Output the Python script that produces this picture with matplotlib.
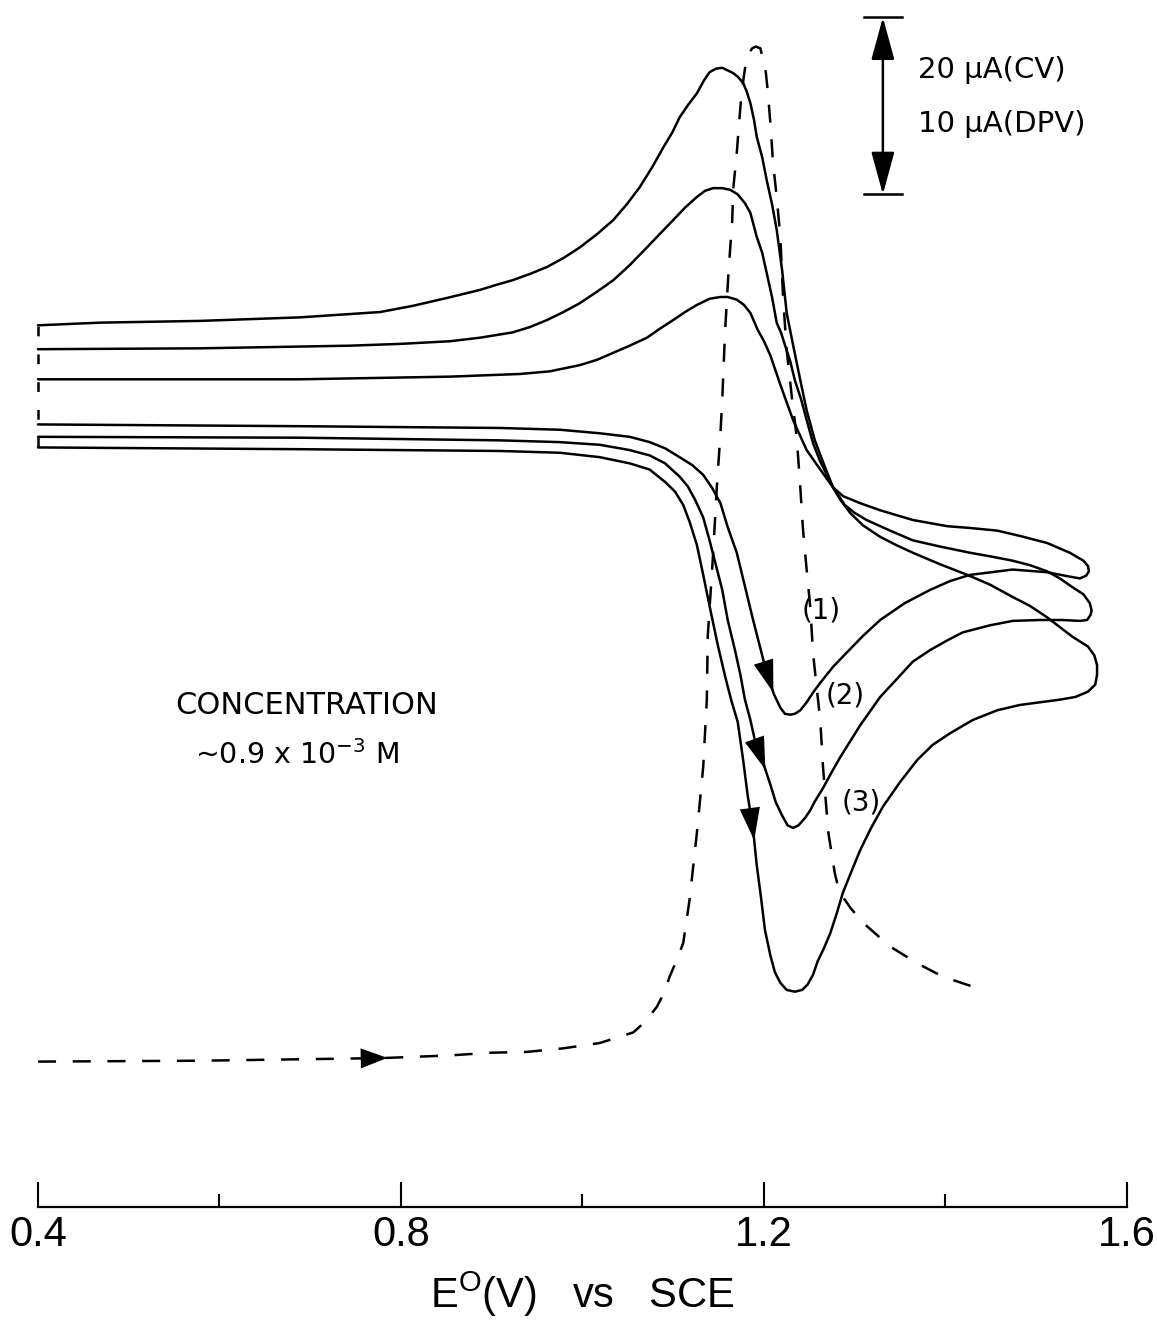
import numpy as np
import matplotlib
matplotlib.use("Agg")
import matplotlib.pyplot as plt
from matplotlib.ticker import FixedLocator

plt.rcParams["lines.scale_dashes"] = False

# ---- Cyclic voltammograms: potential (V vs SCE) and current (uA, CV scale) ----
# scan (1)
cv1_fwd_E = [0.400, 0.689, 0.909, 0.975, 1.019, 1.052, 1.074, 1.091, 1.107, 1.121,
             1.133, 1.143, 1.152, 1.160, 1.170, 1.179, 1.188, 1.196, 1.203, 1.211,
             1.218, 1.223, 1.229, 1.234, 1.240, 1.247, 1.254, 1.262, 1.276, 1.291,
             1.309, 1.328, 1.355, 1.383, 1.405, 1.427, 1.474, 1.512, 1.537, 1.548,
             1.555, 1.558]
cv1_fwd_I = [88.2, 88.0, 87.8, 87.6, 87.2, 86.8, 86.2, 85.5, 84.5, 83.6,
             82.5, 81.0, 79.3, 76.6, 73.7, 69.9, 66.1, 62.9, 60.1, 57.7,
             56.2, 55.5, 55.4, 55.5, 55.9, 56.8, 57.9, 59.0, 60.8, 62.4,
             64.3, 66.1, 68.0, 69.5, 70.5, 71.2, 71.8, 71.5, 71.0, 70.8,
             71.1, 71.6]
cv1_rev_E = [1.557, 1.552, 1.537, 1.512, 1.482, 1.457, 1.427, 1.402, 1.364, 1.328,
             1.306, 1.287, 1.276, 1.262, 1.247, 1.232, 1.218, 1.207, 1.200, 1.193,
             1.185, 1.178, 1.170, 1.160, 1.152, 1.140, 1.126, 1.113, 1.100, 1.085,
             1.071, 1.052, 1.034, 1.016, 0.997, 0.964, 0.931, 0.854, 0.689, 0.400]
cv1_rev_I = [72.2, 72.8, 73.7, 74.8, 75.6, 76.2, 76.5, 76.7, 77.4, 78.5,
             79.3, 80.1, 81.1, 83.1, 85.3, 88.7, 92.7, 96.0, 97.6, 98.9,
             100.8, 101.7, 102.3, 102.6, 102.6, 102.4, 101.7, 100.9, 100.0, 99.0,
             98.0, 97.1, 96.3, 95.5, 94.9, 94.2, 93.9, 93.6, 93.3, 93.3]

# scan (2)
cv2_fwd_E = [0.400, 0.689, 0.909, 0.975, 1.019, 1.052, 1.074, 1.091, 1.107, 1.116,
             1.124, 1.133, 1.140, 1.147, 1.154, 1.160, 1.168, 1.174, 1.179, 1.185,
             1.190, 1.198, 1.207, 1.213, 1.220, 1.226, 1.232, 1.238, 1.245, 1.251,
             1.256, 1.265, 1.274, 1.284, 1.295, 1.306, 1.317, 1.328, 1.347, 1.364,
             1.383, 1.402, 1.419, 1.449, 1.474, 1.504, 1.529, 1.548, 1.556, 1.560]
cv2_fwd_I = [86.8, 86.7, 86.4, 86.2, 85.9, 85.3, 84.7, 83.8, 82.3, 81.2,
             79.7, 77.7, 75.1, 72.3, 69.5, 66.1, 62.7, 59.9, 57.1, 54.8,
             52.5, 50.3, 47.5, 45.5, 44.0, 42.9, 42.6, 42.9, 43.7, 44.6,
             45.6, 47.1, 48.8, 50.6, 52.4, 54.2, 55.8, 57.4, 59.5, 61.4,
             62.7, 63.8, 64.7, 65.5, 66.0, 66.1, 66.1, 66.0, 66.1, 66.7]
cv2_rev_E = [1.561, 1.559, 1.552, 1.540, 1.526, 1.512, 1.493, 1.474, 1.449, 1.427,
             1.394, 1.364, 1.339, 1.313, 1.300, 1.289, 1.276, 1.262, 1.254, 1.247,
             1.241, 1.234, 1.229, 1.223, 1.219, 1.214, 1.209, 1.203, 1.198, 1.192,
             1.185, 1.179, 1.171, 1.163, 1.154, 1.144, 1.135, 1.126, 1.113, 1.100,
             1.085, 1.071, 1.052, 1.034, 1.016, 0.997, 0.979, 0.961, 0.942, 0.923,
             0.887, 0.854, 0.799, 0.744, 0.579, 0.400]
cv2_rev_I = [67.2, 68.0, 69.0, 69.8, 70.8, 71.6, 72.3, 72.8, 73.3, 73.7,
             74.4, 75.1, 76.2, 77.4, 78.2, 79.1, 81.1, 84.0, 86.1, 88.7,
             91.0, 93.2, 95.3, 97.2, 98.5, 99.7, 102.5, 105.3, 107.6, 109.4,
             112.1, 113.2, 114.2, 114.7, 114.9, 114.9, 114.6, 113.9, 112.7, 111.3,
             109.7, 108.2, 106.2, 104.5, 103.2, 101.9, 100.9, 100.0, 99.2, 98.6,
             98.0, 97.6, 97.3, 97.1, 96.8, 96.7]

# scan (3)
cv3_fwd_E = [0.400, 0.689, 0.909, 0.975, 1.019, 1.052, 1.074, 1.091, 1.102, 1.111,
             1.118, 1.126, 1.133, 1.141, 1.149, 1.157, 1.164, 1.171, 1.177, 1.182,
             1.188, 1.192, 1.197, 1.201, 1.207, 1.212, 1.218, 1.225, 1.234, 1.242,
             1.248, 1.254, 1.259, 1.266, 1.273, 1.280, 1.287, 1.296, 1.306, 1.318,
             1.331, 1.350, 1.369, 1.386, 1.405, 1.430, 1.457, 1.482, 1.504, 1.526,
             1.543, 1.557, 1.565, 1.567]
cv3_fwd_I = [85.6, 85.4, 85.2, 85.0, 84.5, 83.8, 83.1, 81.7, 80.6, 79.1,
             77.2, 74.6, 71.2, 67.2, 63.3, 59.8, 57.0, 54.6, 50.3, 46.3,
             42.4, 38.4, 34.5, 31.1, 28.2, 26.3, 25.1, 24.3, 24.1, 24.3,
             24.9, 26.0, 27.5, 29.0, 30.7, 32.9, 35.3, 37.6, 40.1, 42.6,
             45.0, 47.8, 50.3, 52.0, 53.3, 54.8, 55.9, 56.5, 56.8, 57.1,
             57.4, 58.0, 58.8, 59.9]
cv3_rev_E = [1.567, 1.564, 1.557, 1.540, 1.526, 1.512, 1.493, 1.474, 1.449, 1.424,
             1.394, 1.364, 1.347, 1.328, 1.309, 1.295, 1.284, 1.276, 1.266, 1.256,
             1.247, 1.240, 1.232, 1.225, 1.220, 1.214, 1.209, 1.203, 1.198, 1.192,
             1.189, 1.185, 1.181, 1.177, 1.171, 1.166, 1.160, 1.154, 1.147, 1.140,
             1.134, 1.126, 1.117, 1.107, 1.099, 1.089, 1.077, 1.063, 1.049, 1.034,
             1.016, 0.997, 0.979, 0.961, 0.942, 0.923, 0.906, 0.887, 0.851, 0.813,
             0.777, 0.733, 0.689, 0.634, 0.579, 0.468, 0.400]
cv3_rev_I = [61.0, 62.1, 63.1, 64.2, 65.3, 66.4, 67.7, 68.7, 70.1, 71.2,
             72.4, 73.7, 74.5, 75.5, 76.8, 78.2, 79.7, 81.1, 83.7, 86.4,
             89.8, 93.2, 97.2, 100.8, 105.6, 110.2, 113.0, 115.8, 118.4, 120.7,
             122.6, 124.5, 125.8, 126.8, 127.5, 127.9, 128.2, 128.5, 128.4, 128.0,
             127.1, 125.6, 124.4, 122.9, 121.2, 119.5, 117.3, 115.0, 113.1, 111.3,
             109.7, 108.2, 107.0, 106.0, 105.2, 104.5, 104.0, 103.4, 102.5, 101.6,
             100.9, 100.6, 100.3, 100.1, 99.9, 99.7, 99.4]

# ---- Differential pulse voltammogram (current on the 10 uA scale) ----
dpv_E = [0.400, 0.579, 0.780, 0.854, 0.898, 0.939, 0.979, 1.019, 1.056, 1.069,
         1.082, 1.090, 1.096, 1.104, 1.111, 1.118, 1.126, 1.133, 1.137, 1.138,
         1.144, 1.148, 1.152, 1.154, 1.157, 1.161, 1.165, 1.166, 1.170, 1.174,
         1.176, 1.179, 1.182, 1.187, 1.191, 1.196, 1.199, 1.202, 1.204, 1.207,
         1.210, 1.214, 1.218, 1.221, 1.225, 1.231, 1.236, 1.240, 1.243, 1.247,
         1.251, 1.254, 1.258, 1.262, 1.265, 1.271, 1.278, 1.281, 1.287, 1.295,
         1.309, 1.339, 1.369, 1.397, 1.441]
dpv_I = [16.2, 16.3, 16.6, 16.9, 17.2, 17.3, 17.7, 18.3, 19.5, 20.7,
         22.4, 24.0, 25.8, 27.7, 29.6, 34.5, 42.0, 49.5, 57.1, 64.2,
         73.7, 81.1, 87.2, 91.0, 98.5, 105.6, 111.3, 114.7, 118.9, 124.1,
         126.2, 128.4, 129.9, 130.7, 130.9, 130.7, 129.4, 128.0, 126.0, 122.3,
         117.7, 113.9, 109.4, 102.6, 96.6, 91.0, 86.8, 81.1, 76.3, 71.8,
         67.6, 62.4, 58.5, 54.8, 49.5, 42.0, 37.5, 36.2, 34.8, 33.6,
         31.9, 29.2, 27.3, 25.8, 24.3]

scan_labels = ["(1)", "(2)", "(3)"]
scan_label_E = [1.263, 1.290, 1.307]
scan_label_I = [67.2, 57.6, 45.5]
arrow_levels = [57.9, 49.2, 41.2]        # current where the scan-direction arrow sits

x_major = [0.4, 0.8, 1.2, 1.6]
x_minor = [0.6, 1.0, 1.4]
x_major_labels = ["0.4", "0.8", "1.2", "1.6"]

scale_E = 1.331          # position of the current scale bar
scale_bottom = 114.2
scale_span_uA = 20       # 20 uA (CV) / 10 uA (DPV)

# ---------------------------------------------------------------------------
LW = 1.8
fig = plt.figure(figsize=(11.57, 13.24), dpi=100)
ax = fig.add_axes([38 / 1157, 117 / 1324, 1089 / 1157, 1207 / 1324])
ax.set_xlim(0.4, 1.6)
ax.set_ylim(-0.23, 136.16)

loops = [
    (cv1_fwd_E + cv1_rev_E, cv1_fwd_I + cv1_rev_I, cv1_fwd_E, cv1_fwd_I),
    (cv2_fwd_E + cv2_rev_E, cv2_fwd_I + cv2_rev_I, cv2_fwd_E, cv2_fwd_I),
    (cv3_fwd_E + cv3_rev_E, cv3_fwd_I + cv3_rev_I, cv3_fwd_E, cv3_fwd_I),
]
for E, I, fE, fI in loops:
    ax.plot(E, I, color="black", lw=LW, solid_joinstyle="round",
            solid_capstyle="round", clip_on=False)

# dashed link joining the start/end of the scans at the initial potential
ends = [l[1][0] for l in loops] + [l[1][-1] for l in loops]
ax.plot([x_major[0], x_major[0]], [min(ends), max(ends)], color="black",
        lw=LW, linestyle=(0, (7, 13)), clip_on=False)

# DPV trace
ax.plot(dpv_E, dpv_I, color="black", lw=LW, linestyle=(0, (13, 12)),
        dash_capstyle="butt", solid_joinstyle="round", clip_on=False)


def point_on_descent(E, I, level):
    for k in range(len(I) - 1):
        if I[k] >= level > I[k + 1]:
            t = (I[k] - level) / (I[k] - I[k + 1])
            return E[k] + t * (E[k + 1] - E[k])
    return E[-1]


head = "-|>,head_length=0.9,head_width=0.28"
for (E, I, fE, fI), lev in zip(loops, arrow_levels):
    xe = point_on_descent(fE, fI, lev)
    back = lev + 3.0
    xb = point_on_descent(fE, fI, back)
    ax.annotate("", xy=(xe, lev), xytext=(xb, back),
                arrowprops=dict(arrowstyle=head, color="black", lw=0,
                                mutation_scale=26, shrinkA=0, shrinkB=0))

# direction arrow on the DPV baseline
tip_E = 0.785
ax.annotate("", xy=(tip_E, np.interp(tip_E, dpv_E, dpv_I)),
            xytext=(tip_E - 0.03, np.interp(tip_E - 0.03, dpv_E, dpv_I)),
            arrowprops=dict(arrowstyle="-|>,head_length=0.8,head_width=0.3",
                            color="black", lw=0, mutation_scale=24,
                            shrinkA=0, shrinkB=0))

txt_font = ["DejaVu Sans"]
for lab, e, i in zip(scan_labels, scan_label_E, scan_label_I):
    ax.text(e, i, lab, fontsize=20, ha="center", va="center", family=txt_font)

# current scale bar
scale_top = scale_bottom + scale_span_uA
ax.annotate("", xy=(scale_E, scale_top), xytext=(scale_E, scale_bottom),
            arrowprops=dict(arrowstyle="<|-|>,head_length=1.1,head_width=0.3",
                            color="black", lw=LW, mutation_scale=24,
                            shrinkA=0, shrinkB=0))
for yv in (scale_bottom, scale_top):
    ax.plot([scale_E - 0.021, scale_E + 0.021], [yv, yv], color="black",
            lw=LW, clip_on=False)
ax.text(1.370, 128.2, "20 \u00b5A(CV)", fontsize=21, ha="left", va="center",
        family=txt_font)
ax.text(1.370, 122.1, "10 \u00b5A(DPV)", fontsize=21, ha="left", va="center",
        family=txt_font)

ax.text(0.551, 56.4, "CONCENTRATION", fontsize=22, ha="left", va="center",
        family=txt_font)
ax.text(0.573, 50.8, "~0.9 x 10$^{\\mathregular{-3}}$ M", fontsize=20.5,
        ha="left", va="center", family=txt_font)

# x axis
for side in ("left", "right", "top"):
    ax.spines[side].set_visible(False)
ax.spines["bottom"].set_linewidth(1.6)
ax.yaxis.set_visible(False)
ax.xaxis.set_major_locator(FixedLocator(x_major))
ax.xaxis.set_minor_locator(FixedLocator(x_minor))
ax.set_xticklabels(x_major_labels)
ax.tick_params(axis="x", which="major", direction="in", length=18, width=1.5,
               pad=6, labelsize=30)
ax.tick_params(axis="x", which="minor", direction="in", length=9.5, width=1.5)
for t in ax.get_xticklabels():
    t.set_family(["Liberation Sans", "DejaVu Sans"])
ax.set_xlabel("E$^{\\mathregular{O}}$(V)   vs   SCE", fontsize=30, labelpad=10,
              family=["Liberation Sans", "DejaVu Sans"])

fig.savefig("out.png", dpi=100, facecolor="white")
